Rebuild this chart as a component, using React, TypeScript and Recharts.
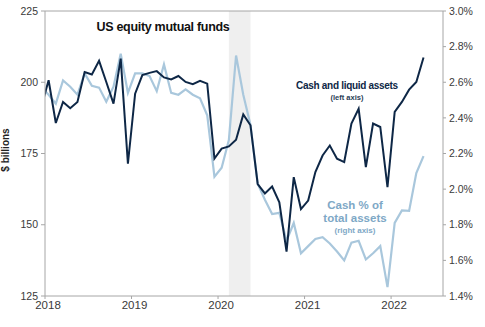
import React from 'react';
import { LineChart, Line, XAxis, YAxis, ReferenceArea, ReferenceLine } from 'recharts';

// monthly series, first value is Dec 2017 (sits just left of the axis and gets clipped)
const startYear = 2017;
const startMonth = 12;

const cashLiquid = [
  191.5, 200.7, 185.7, 193.1, 190.9, 193.1, 203.6, 202.7, 207.5, 200.1, 192.5, 208.3, 171.4,
  196.0, 202.5, 203.3, 203.9, 201.7, 201.0, 202.2, 200.1, 199.3, 200.5, 199.5, 173.2,
  176.7, 177.5, 179.8, 188.7, 184.9, 164.3, 161.0, 163.4, 157.9, 140.6, 166.7, 155.5,
  158.5, 168.5, 174.3, 177.8, 173.2, 172.0, 185.5, 190.7, 170.2, 185.5, 184.3, 163.2,
  189.6, 193.1, 197.4, 200.1, 208.7,
];

const cashPct = [
  2.57, 2.53, 2.48, 2.61, 2.575, 2.53, 2.65, 2.58, 2.57, 2.49, 2.575, 2.76, 2.54,
  2.65, 2.65, 2.635, 2.55, 2.7, 2.54, 2.53, 2.56, 2.53, 2.51, 2.415, 2.07,
  2.12, 2.275, 2.75, 2.53, 2.36, 2.03, 1.94, 1.86, 1.867, 1.71, 1.81, 1.64,
  1.68, 1.72, 1.73, 1.695, 1.65, 1.6, 1.7, 1.71, 1.605, 1.64, 1.68, 1.45,
  1.81, 1.88, 1.878, 2.09, 2.185,
];

const yearTicks = [2018, 2019, 2020, 2021, 2022];
const leftTicks = [125, 150, 175, 200, 225];
const rightTicks = [1.4, 1.6, 1.8, 2.0, 2.2, 2.4, 2.6, 2.8, 3.0];
const recession = { from: [2020, 2], to: [2020, 4] };

const baseYear = 2018;
// months since Jan 2018, plotted mid-month
const toX = (y: number, m: number) => (y - baseYear) * 12 + (m - 1) + 0.5;

const data = cashLiquid.map((v, i) => {
  const total = startMonth - 1 + i;
  const y = startYear + Math.floor(total / 12);
  const m = (total % 12) + 1;
  return { t: toX(y, m), cash: v, pct: cashPct[i] };
});

const NAVY = '#0e2746';
const LIGHT = '#a9c7dc';
const AXIS = '#a6a6a6';
const FONT = 'Arial, "Liberation Sans", sans-serif';

const tickStyle = { fill: '#3a3a3a', fontSize: 10.5, fontFamily: FONT };

const App = () => {
  return (
    <div style={{ position: 'absolute', left: 0, top: 0, width: 485, height: 327, background: '#fff', fontFamily: FONT }}>
      <LineChart width={485} height={327} data={data} margin={{ top: 11, right: 0, bottom: 0, left: 0 }}>
        <XAxis
          dataKey="t"
          type="number"
          domain={[0, 55.2]}
          allowDataOverflow
          ticks={yearTicks.map((y) => (y - baseYear) * 12)}
          tickFormatter={(v: number) => String(baseYear + v / 12)}
          stroke={AXIS}
          tick={{ ...tickStyle, fontSize: 11.5, dx: 3 }}
          tickSize={3}
          height={31}
        />
        <YAxis
          yAxisId="left"
          domain={[125, 225]}
          ticks={leftTicks}
          stroke={AXIS}
          tick={tickStyle}
          tickSize={4}
          tickMargin={3}
          width={45}
        />
        <YAxis
          yAxisId="right"
          orientation="right"
          domain={[1.4, 3.0]}
          ticks={rightTicks}
          tickFormatter={(v: number) => v.toFixed(1) + '%'}
          stroke={AXIS}
          tick={tickStyle}
          tickSize={3}
          tickMargin={3}
          width={42}
        />
        <ReferenceArea
          yAxisId="left"
          x1={toX(recession.from[0], recession.from[1])}
          x2={toX(recession.to[0], recession.to[1]) + 1}
          fill="#efefef"
          fillOpacity={1}
          stroke="none"
        />
        <ReferenceLine yAxisId="left" y={225} stroke={AXIS} />
        <Line
          yAxisId="right"
          dataKey="pct"
          stroke={LIGHT}
          strokeWidth={2.2}
          dot={false}
          isAnimationActive={false}
        />
        <Line
          yAxisId="left"
          dataKey="cash"
          stroke={NAVY}
          strokeWidth={2}
          dot={false}
          isAnimationActive={false}
        />
      </LineChart>

      <div style={{ position: 'absolute', left: 63, top: 19, width: 200, textAlign: 'center', fontWeight: 'bold', fontSize: 12.5, lineHeight: '16px', color: '#111', letterSpacing: -0.3 }}>
        US equity mutual funds
      </div>
      <div style={{ position: 'absolute', left: -34, top: 143, width: 80, height: 14, textAlign: 'center', fontWeight: 'bold', fontSize: 10, lineHeight: '14px', color: '#222', transform: 'rotate(-90deg)' }}>
        $ billions
      </div>
      <div style={{ position: 'absolute', left: 287, top: 79, width: 120, textAlign: 'center', color: NAVY }}>
        <div style={{ fontWeight: 'bold', fontSize: 10, lineHeight: '13px', letterSpacing: -0.3 }}>Cash and liquid assets</div>
        <div style={{ fontWeight: 'bold', fontSize: 7.5, lineHeight: '11px', color: '#2a3d55' }}>(left axis)</div>
      </div>
      <div style={{ position: 'absolute', left: 295, top: 199, width: 120, textAlign: 'center', color: '#7ea8c6' }}>
        <div style={{ fontWeight: 'bold', fontSize: 11.5, lineHeight: '13px' }}>Cash % of</div>
        <div style={{ fontWeight: 'bold', fontSize: 11.5, lineHeight: '13px' }}>total assets</div>
        <div style={{ fontWeight: 'bold', fontSize: 8, lineHeight: '11px' }}>(right axis)</div>
      </div>
    </div>
  );
};

export default App;
